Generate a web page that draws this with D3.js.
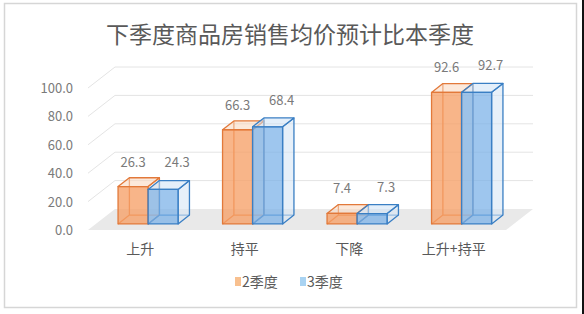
<!DOCTYPE html>
<html>
<head>
<meta charset="utf-8">
<script src="https://cdn.jsdelivr.net/npm/d3@7"></script>
<style>
  html, body { margin: 0; padding: 0; background: #fff; }
  svg { display: block; font-family: "Microsoft YaHei", "Noto Sans CJK SC", sans-serif; }
</style>
</head>
<body>
<svg id="chart"></svg>
<script>
const width = 584;
const height = 314;

const title = "下季度商品房销售均价预计比本季度";
const categories = ["上升", "持平", "下降", "上升+持平"];
const seriesNames = ["2季度", "3季度"];
const q2Values = [26.3, 66.3, 7.4, 92.6];
const q3Values = [24.3, 68.4, 7.3, 92.7];
const yTicks = [0, 20, 40, 60, 80, 100];

// 3d box geometry (front plane of the floor + depth vector)
const plot = { left: 88, right: 506, bottom: 230, top: 88 };
const depth = { dx: 27, dy: -21 };
const barStart = 0.29;   // where bars begin inside the depth
const barDepth = 0.42;   // how deep the bars are

const colors = [
  { stroke: "#E2793A", front: "rgba(246,160,104,0.78)", top: "rgba(250,215,190,0.55)", side: "rgba(250,225,205,0.5)", key: "#F8C08F" },
  { stroke: "#3A7FC4", front: "rgba(120,176,232,0.72)", top: "rgba(205,225,245,0.55)", side: "rgba(215,230,245,0.6)", key: "#A9D3F2" }
];

const svg = d3.select("#chart")
  .attr("width", width)
  .attr("height", height)
  .attr("viewBox", [0, 0, width, height]);

svg.append("rect")
  .attr("x", 4.5).attr("y", 3.5)
  .attr("width", 572).attr("height", 304)
  .attr("fill", "#fff")
  .attr("stroke", "#d6d6d6")
  .attr("stroke-width", 1.5);

svg.append("rect")
  .attr("x", 582).attr("y", 0)
  .attr("width", 2).attr("height", height)
  .attr("fill", "#111");

svg.append("text")
  .attr("x", 290)
  .attr("y", 43)
  .attr("text-anchor", "middle")
  .attr("font-size", 23)
  .attr("fill", "#595959")
  .text(title);

const y = d3.scaleLinear()
  .domain([0, 100])
  .range([plot.bottom, plot.top]);

const x = d3.scaleBand()
  .domain(categories)
  .range([plot.left, plot.right]);

const xSub = d3.scaleBand()
  .domain(seriesNames)
  .range([0, x.bandwidth()])
  .paddingOuter(0.74);

// floor
const floor = [
  [plot.left, plot.bottom],
  [plot.right, plot.bottom],
  [plot.right + depth.dx, plot.bottom + depth.dy],
  [plot.left + depth.dx, plot.bottom + depth.dy]
];
svg.append("path")
  .attr("d", "M" + floor.join("L") + "Z")
  .attr("fill", "#e9e9e9");

// gridlines on side wall and back wall
svg.append("g")
  .selectAll("path")
  .data(yTicks.filter(d => d > 0))
  .join("path")
  .attr("fill", "none")
  .attr("stroke", "#e4e4e4")
  .attr("stroke-width", 1)
  .attr("d", d => {
    const yy = y(d);
    return `M${plot.left},${yy}L${plot.left + depth.dx},${yy + depth.dy}L${plot.right + depth.dx},${yy + depth.dy}`;
  });

// y axis labels
svg.append("g")
  .selectAll("text")
  .data(yTicks)
  .join("text")
  .attr("x", 73)
  .attr("y", d => y(d) + 5)
  .attr("text-anchor", "end")
  .attr("font-size", 13)
  .attr("fill", "#7a7a7a")
  .text(d => d.toFixed(1));

// category labels
svg.append("g")
  .selectAll("text")
  .data(categories)
  .join("text")
  .attr("x", d => x(d) + x.bandwidth() / 2)
  .attr("y", 254)
  .attr("text-anchor", "middle")
  .attr("font-size", 14)
  .attr("fill", "#595959")
  .text(d => d);

// bars
const offX = depth.dx * barStart, offY = depth.dy * barStart;
const bdx = depth.dx * barDepth, bdy = depth.dy * barDepth;
const bw = xSub.bandwidth();

const bars = [];
categories.forEach((c, i) => {
  [q2Values[i], q3Values[i]].forEach((v, s) => {
    bars.push({ cat: c, s, value: v });
  });
});

const barG = svg.append("g");
bars.forEach(b => {
  const col = colors[b.s];
  const x0 = x(b.cat) + xSub(seriesNames[b.s]) + offX;
  const x1 = x0 + bw;
  const yb = y(0) + offY;
  const yt = y(b.value) + offY;
  const g = barG.append("g")
    .attr("stroke", col.stroke)
    .attr("stroke-width", 1.3)
    .attr("stroke-linejoin", "round");

  // hidden back edges
  g.append("path")
    .attr("fill", "none")
    .attr("d", `M${x0 + bdx},${yt + bdy}L${x0 + bdx},${yb + bdy}L${x1 + bdx},${yb + bdy}M${x0},${yb}L${x0 + bdx},${yb + bdy}`);
  // right side
  g.append("path")
    .attr("fill", col.side)
    .attr("d", `M${x1},${yb}L${x1 + bdx},${yb + bdy}L${x1 + bdx},${yt + bdy}L${x1},${yt}Z`);
  // top
  g.append("path")
    .attr("fill", col.top)
    .attr("d", `M${x0},${yt}L${x0 + bdx},${yt + bdy}L${x1 + bdx},${yt + bdy}L${x1},${yt}Z`);
  // front
  g.append("rect")
    .attr("x", x0).attr("y", yt)
    .attr("width", bw).attr("height", yb - yt)
    .attr("fill", col.front);
});

// value labels
svg.append("g")
  .selectAll("text")
  .data(bars)
  .join("text")
  .attr("x", d => x(d.cat) + xSub(seriesNames[d.s]) + offX + bw / 2 + (d.s ? 14 : 0))
  .attr("y", d => y(d.value) + offY - (d.s ? 22 : 20))
  .attr("text-anchor", "middle")
  .attr("font-size", 13)
  .attr("fill", "#7a7a7a")
  .text(d => d.value.toFixed(1));

// legend
const legend = svg.append("g")
  .selectAll("g")
  .data(seriesNames)
  .join("g")
  .attr("transform", (d, i) => `translate(${235 + i * 65},0)`);
legend.append("rect")
  .attr("x", 0).attr("y", 277)
  .attr("width", 6).attr("height", 9)
  .attr("fill", (d, i) => colors[i].key);
legend.append("text")
  .attr("x", 7)
  .attr("y", 287)
  .attr("font-size", 14)
  .attr("fill", "#595959")
  .text(d => d);
</script>
</body>
</html>
